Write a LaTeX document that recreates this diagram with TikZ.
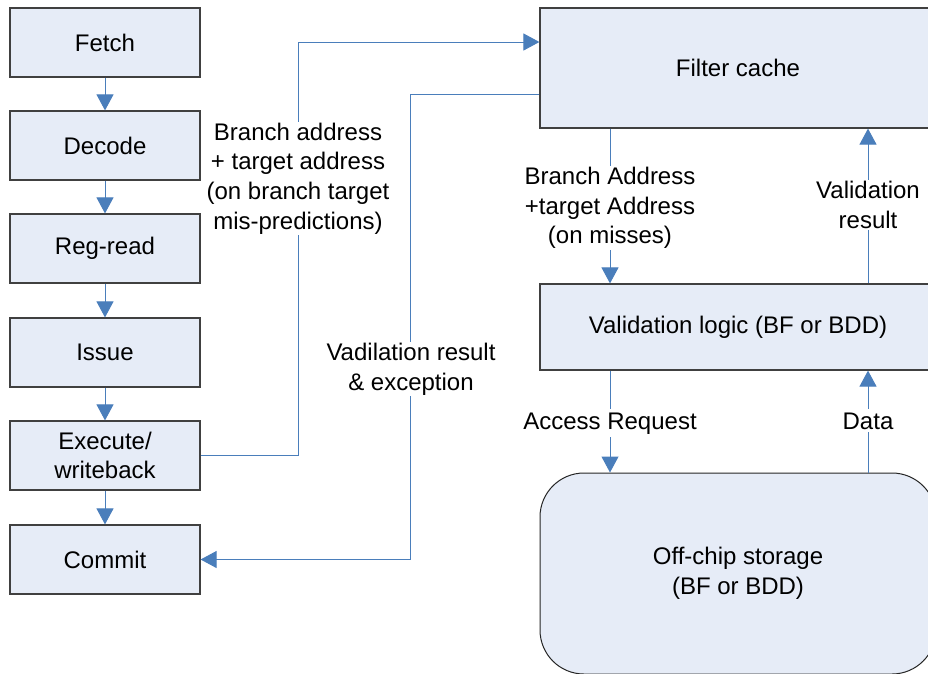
\documentclass[tikz,border=0pt]{standalone}
\usepackage{fontspec}
\setmainfont{Liberation Sans}
\usetikzlibrary{arrows.meta}
\definecolor{boxfill}{HTML}{E6ECF7}
\definecolor{boxline}{HTML}{404040}
\definecolor{linkblue}{HTML}{4A7EBB}
\begin{document}
\begin{tikzpicture}[x=1pt,y=-1pt,
  font=\fontsize{24}{29.7}\selectfont,
  stage/.style={draw=boxline, fill=boxfill, line width=1.2pt, minimum width=190pt, minimum height=69pt, inner sep=0pt, align=center},
  bigbox/.style={stage, minimum width=396pt},
  link/.style={draw=linkblue, line width=1pt, -{Triangle[width=17pt,length=16pt]}},
  lbl/.style={fill=white, align=center, inner sep=1pt}]
\useasboundingbox (0,0) rectangle (928,673);
\fill[white] (0,0) rectangle (928,673);
% left pipeline
\node[stage] (fetch) at (105,42.5) {Fetch};
\node[stage] (decode) at (105,145.5) {Decode};
\node[stage] (regread) at (105,248.5) {Reg-read};
\node[stage] (issue) at (105,352.5) {Issue};
\node[stage] (exec) at (105,455.5) {Execute/\\writeback};
\node[stage] (commit) at (105,559.5) {Commit};
\draw[link] (fetch.south) -- (decode.north);
\draw[link] (decode.south) -- (regread.north);
\draw[link] (regread.south) -- (issue.north);
\draw[link] (issue.south) -- (exec.north);
\draw[link] (exec.south) -- (commit.north);
% right blocks
\node[bigbox, minimum height=120pt] (filter) at (738,68) {Filter cache};
\node[bigbox, minimum height=86pt] (vlogic) at (738,327) {Validation logic (BF or BDD)};
\node[bigbox, minimum height=201pt, rounded corners=44pt, draw=black!85, line width=1pt] (store) at (738,573.5) {Off-chip storage\\(BF or BDD)};
% branch connector
\coordinate (b1) at (298,42);
\draw[link] (exec.east) -| (b1) -- (b1 -| filter.west);
\node[lbl] (blabel) at (298,178.5) {Branch address\\+ target address\\(on branch target\\mis-predictions)};
% validation result connector
\coordinate (v1) at (410,94);
\draw[link] (filter.west |- v1) -- (v1) |- (commit.east);
\node[lbl] (vlabel) at (411,369) {Vadilation result\\\& exception};
% vertical connectors on the right
\coordinate (la) at (610,0);
\coordinate (ra) at (868,0);
\draw[link] (la |- filter.south) -- (la |- vlogic.north);
\node[lbl] (alabel) at (610,208) {Branch Address\\+target Address\\(on misses)};
\draw[link] (ra |- vlogic.north) -- (ra |- filter.south);
\node[lbl] (rlabel) at (868,205) {Validation\\result};
\draw[link] (la |- vlogic.south) -- (la |- store.north);
\node[lbl, anchor=base, inner sep=3pt] (aclabel) at (610,429) {Access Request};
\draw[link] (ra |- store.north) -- (ra |- vlogic.south);
\node[lbl, anchor=base, inner sep=3pt] (dlabel) at (868,429) {Data};
\end{tikzpicture}
\end{document}
